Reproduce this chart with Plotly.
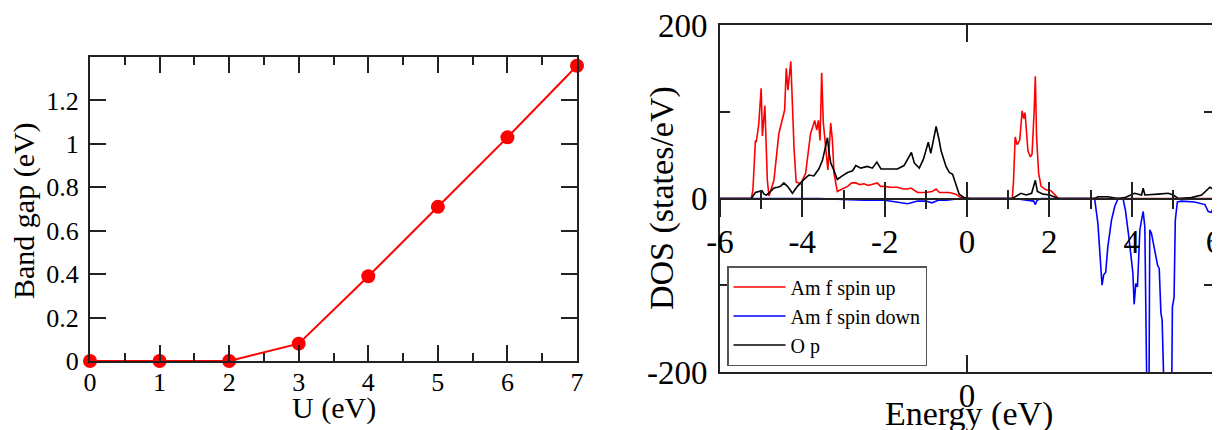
import plotly.graph_objects as go

# ---------------- data ----------------
U_values = [0, 1, 2, 3, 4, 5, 6, 7]
band_gap = [0, 0, 0, 0.08, 0.39, 0.71, 1.03, 1.36]

energy_up = [-6, -5.24, -5.2, -5.16, -5.14, -5.12, -5.06, -5.0, -4.97, -4.91, -4.85, -4.81, -4.69, -4.57,
             -4.49, -4.43, -4.39, -4.35, -4.28, -4.26, -4.20, -4.15, -4.04, -3.92, -3.80, -3.73, -3.70,
             -3.65, -3.61, -3.57, -3.53, -3.49, -3.43, -3.38, -3.31, -3.27, -3.23, -3.15, -3.07, -2.90,
             -2.80, -2.70, -2.60, -2.50, -2.40, -2.26, -2.18, -2.10, -2.01, -1.85, -1.69, -1.55, -1.44,
             -1.36, -1.28, -1.20, -1.00, -0.85, -0.75, -0.67, -0.55, -0.43, -0.27, -0.15, -0.05, 1.10,
             1.13, 1.17, 1.22, 1.28, 1.34, 1.38, 1.41, 1.48, 1.54, 1.58, 1.63, 1.66, 1.69, 1.74, 1.80,
             1.92, 2.04, 2.17, 2.22, 6.0]
dos_up = [0, 0, 10, 60, 67, 65, 85, 127, 72, 107, 21, 3, 21, 75,
          90, 102, 150, 125, 158, 133, 56, 19, 17, 29, 75, 85, 90,
          79, 90, 67, 145, 87, 52, 33, 87, 67, 29, 8, 10, 14,
          18, 18, 16, 17, 15, 17, 18, 14, 14, 13, 13, 11, 11,
          12, 9, 7, 7, 8, 11, 7, 7, 7, 5, 1, 0, 0,
          20, 71, 62, 67, 101, 92, 99, 55, 48, 51, 100, 141, 71, 29, 14,
          10, 9, 3, 0, 0]

energy_down = [-6, -3.6, -3.0, -2.5, -2.0, -1.7, -1.44, -1.2, -1.0, -0.85, -0.7, -0.5, -0.3, -0.15,
               1.15, 1.4, 1.62, 1.66, 1.7, 1.8, 3.10, 3.18, 3.24, 3.28, 3.32, 3.37, 3.42, 3.51, 3.59,
               3.67, 3.79, 3.85, 3.93, 3.99, 4.03, 4.06, 4.10, 4.14, 4.20, 4.24, 4.28, 4.32, 4.37,
               4.42, 4.44, 4.48, 4.52, 4.58, 4.63, 4.67, 4.71, 4.74, 4.79, 4.97, 4.99, 5.03, 5.06,
               5.11, 5.21, 5.53, 5.78, 5.86, 5.94, 6.0]
dos_down = [0, 0, -1, -2, -2, -4, -6, -3, -3, -5, -2, -2, -1, 0,
            0, -2, -3, -7, -2, 0, 0, -29, -67, -100, -88, -85, -56, -25, -9,
            0, 0, -14, -44, -67, -86, -122, -98, -102, -36, -25, -15, -33, -230,
            -230, -36, -40, -50, -61, -77, -81, -132, -140, -230, -230, -125, -114, -25,
            -4, -3, -4, -7, -15, -16, -8]

energy_op = [-6, -5.24, -5.14, -5.06, -4.98, -4.93, -4.87, -4.78, -4.69, -4.60, -4.53, -4.45, -4.36,
             -4.24, -4.12, -3.96, -3.84, -3.72, -3.60, -3.51, -3.43, -3.39, -3.35, -3.31, -3.23, -3.15,
             -3.03, -2.90, -2.78, -2.70, -2.58, -2.42, -2.30, -2.19, -2.09, -1.93, -1.69, -1.53, -1.40,
             -1.35, -1.28, -1.16, -1.06, -0.94, -0.88, -0.81, -0.75, -0.68, -0.63, -0.51, -0.43, -0.35,
             -0.27, -0.19, -0.07, 0.07, 1.10, 1.20, 1.31, 1.44, 1.57, 1.66, 1.71, 1.85, 2.01, 2.22,
             3.10, 3.18, 3.42, 3.67, 3.83, 4.07, 4.24, 4.28, 4.32, 4.64, 4.89, 5.01, 5.13, 5.45, 5.70,
             5.90, 6.0]
dos_op = [0, 0, 7, 8, 9, 5, 4, 8, 12, 13, 14, 18, 14,
          6, 14, 22, 27, 26, 34, 44, 61, 70, 53, 41, 32, 22,
          26, 30, 32, 38, 35, 37, 35, 42, 34, 34, 34, 38, 49,
          53, 41, 35, 45, 65, 52, 70, 83, 68, 55, 37, 30, 28,
          16, 5, 1, 0, 0, 3, 6, 4, 6, 21, 8, 5, 4, 0,
          0, 2, 2, 0, 1, 6, 4, 12, 4, 5, 6, 4, 0, 1, 4,
          13, 10]

gap_yticks = [0, 0.2, 0.4, 0.6, 0.8, 1.0, 1.2]
gap_yticktext = ["0", "0.2", "0.4", "0.6", "0.8", "1", "1.2"]
energy_ticks = [-6, -4, -2, 0, 2, 4, 6]
energy_ticktext = ["-6", "-4", "-2", "0", "2", "4", "6"]
dos_ticks = [-200, 0, 200]
dos_ticktext = ["-200", "0", "200"]

# ---------------- layout helpers ----------------
W, H = 1220, 430
OFF = 8  # page body margin in the browser
FONT = "Liberation Serif"
AX = "#222222"


def px_x(x):
    return (x - OFF) / W


def px_y(y):
    return 1 - (y - OFF) / H


left_dom_x = [px_x(90), px_x(577)]
left_dom_y = [px_y(361), px_y(57)]
right_dom_x = [px_x(720), px_x(1214)]
right_dom_y = [px_y(372), px_y(25)]
zero_pos = (right_dom_y[0] + right_dom_y[1]) / 2

fig = go.Figure()

# left panel
fig.add_trace(go.Scatter(x=U_values, y=band_gap, mode="lines+markers",
                         line=dict(color="#ff0000", width=2),
                         marker=dict(color="#ff0000", size=14),
                         cliponaxis=False, showlegend=False,
                         xaxis="x", yaxis="y"))

# right panel
fig.add_trace(go.Scatter(x=energy_up, y=dos_up, mode="lines", name="Am f spin up",
                         line=dict(color="#ff0000", width=1.6), xaxis="x2", yaxis="y2"))
fig.add_trace(go.Scatter(x=energy_down, y=dos_down, mode="lines", name="Am f spin down",
                         line=dict(color="#0000ff", width=1.6), xaxis="x2", yaxis="y2"))
fig.add_trace(go.Scatter(x=energy_op, y=dos_op, mode="lines", name="O p",
                         line=dict(color="#000000", width=1.6), xaxis="x2", yaxis="y2"))
# carriers for the zero-line axes
fig.add_trace(go.Scatter(x=[None], y=[None], xaxis="x3", yaxis="y2", showlegend=False, hoverinfo="skip"))
fig.add_trace(go.Scatter(x=[None], y=[None], xaxis="x4", yaxis="y2", showlegend=False, hoverinfo="skip"))

common = dict(showgrid=False, zeroline=False, showline=True, linecolor=AX, linewidth=2,
              tickcolor=AX, tickwidth=1.5, automargin=False, ticklabeloverflow="allow")

fig.update_layout(
    template="none",
    width=W, height=H,
    margin=dict(l=0, r=0, t=0, b=0, pad=0),
    paper_bgcolor="white", plot_bgcolor="white",
    font=dict(family=FONT, color="black"),
    xaxis=dict(domain=left_dom_x, anchor="y", range=[0, 7], tickmode="array",
               tickvals=U_values, ticks="inside", ticklen=16, mirror="ticks",
               minor=dict(dtick=0.5, tick0=0, ticklen=8, ticks="inside", tickcolor=AX, tickwidth=1.5),
               tickfont=dict(size=26), ticklabelstandoff=-3, **common),
    yaxis=dict(domain=left_dom_y, anchor="x", range=[0, 1.4], tickmode="array",
               tickvals=gap_yticks, ticktext=gap_yticktext, ticks="inside", ticklen=16,
               mirror="ticks", tickfont=dict(size=26), ticklabelstandoff=4, **common),
    xaxis2=dict(domain=right_dom_x, anchor="y2", range=[-6, 6], tickmode="array",
                tickvals=[0], ticktext=["0"], ticks="inside", ticklen=17, mirror="ticks",
                tickfont=dict(size=33), ticklabelstandoff=-7, **common),
    yaxis2=dict(domain=right_dom_y, anchor="x2", range=[-200, 200], tickmode="array",
                tickvals=dos_ticks, ticktext=dos_ticktext, ticks="inside", ticklen=17, mirror="ticks",
                minor=dict(dtick=100, tick0=0, ticklen=10, ticks="inside", tickcolor=AX, tickwidth=1.5),
                tickfont=dict(size=33), ticklabelstandoff=4, **common),
    xaxis3=dict(overlaying="x2", anchor="free", position=zero_pos, range=[-6, 6],
                tickmode="array", tickvals=energy_ticks, ticktext=energy_ticktext,
                ticks="outside", ticklen=17,
                minor=dict(dtick=1, tick0=0, ticklen=9, ticks="outside", tickcolor=AX, tickwidth=1.5),
                tickfont=dict(size=33), ticklabelstandoff=-3, **common),
    xaxis4=dict(overlaying="x2", anchor="free", position=zero_pos, range=[-6, 6],
                tickmode="array", tickvals=energy_ticks, ticks="inside", ticklen=17,
                minor=dict(dtick=1, tick0=0, ticklen=9, ticks="inside", tickcolor=AX, tickwidth=1.5),
                showticklabels=False, showgrid=False, zeroline=False, showline=False,
                tickcolor=AX, tickwidth=1.5, automargin=False),
    legend=dict(x=px_x(727), y=px_y(266), xanchor="left", yanchor="top",
                bgcolor="white", bordercolor="#555555", borderwidth=1.5,
                font=dict(family=FONT, size=20, color="black"),
                itemwidth=52, tracegroupgap=0),
    annotations=[
        dict(text="Band gap (eV)", textangle=-90, x=px_x(24), y=px_y(211), xref="paper", yref="paper",
             showarrow=False, font=dict(size=30), xanchor="center", yanchor="middle"),
        dict(text="U (eV)", x=px_x(334), y=px_y(408), xref="paper", yref="paper",
             showarrow=False, font=dict(size=30), xanchor="center", yanchor="middle"),
        dict(text="DOS (states/eV)", textangle=-90, x=px_x(662), y=px_y(198), xref="paper", yref="paper",
             showarrow=False, font=dict(size=34), xanchor="center", yanchor="middle"),
        dict(text="Energy (eV)", x=px_x(969), y=px_y(414), xref="paper", yref="paper",
             showarrow=False, font=dict(size=34), xanchor="center", yanchor="middle"),
    ],
)

fig.write_html("out.html")
